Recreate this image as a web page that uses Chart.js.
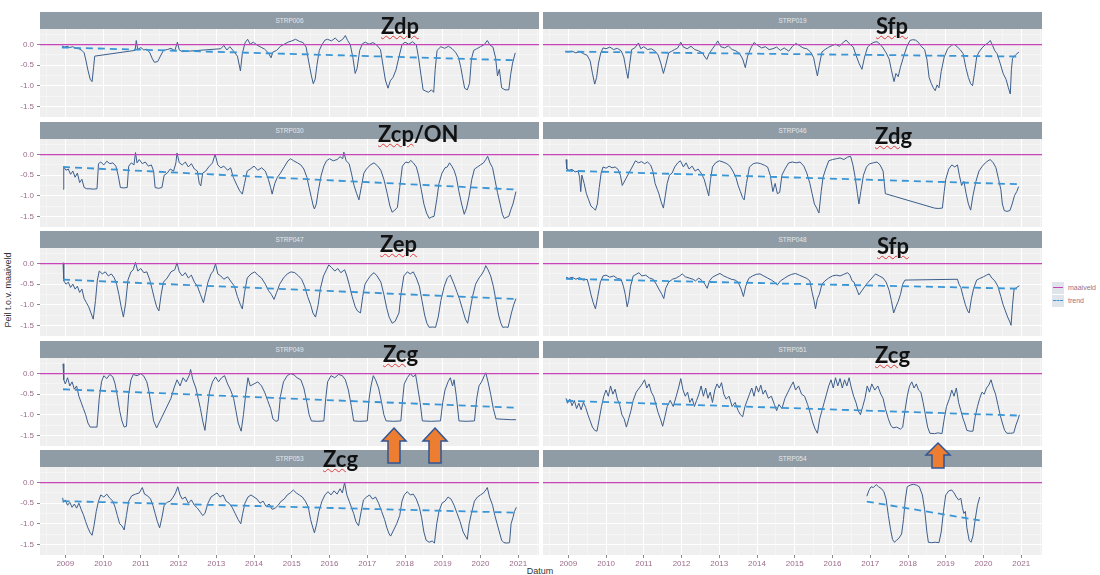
<!DOCTYPE html>
<html>
<head>
<meta charset="utf-8">
<script src="https://cdn.jsdelivr.net/npm/chart.js@4.4.1/dist/chart.umd.min.js"></script>
<style>
  body { margin: 0; background: #fff; }
  #wrap { position: relative; width: 1100px; height: 575px; overflow: hidden; background: #fff; font-family: "Liberation Sans", sans-serif; }
  .strip { position: absolute; height: 17px; background: #8f9ba5; color: #e4e8eb; font-size: 6.5px; line-height: 17px; text-align: center; }
  canvas { position: absolute; }
  .tag { position: absolute; font-family: Lato, sans-serif; font-weight: bold; font-size: 22px; line-height: 22px; color: #111; white-space: nowrap; z-index: 5; }
  .sq { text-decoration: underline wavy #e23a3a; text-decoration-thickness: 1px; text-underline-offset: 1px; }
  #ytitle { position: absolute; left: 8px; top: 290px; transform: translate(-50%, -50%) rotate(-90deg); font-size: 9px; color: #333; white-space: nowrap; }
  #xtitle { position: absolute; left: 540px; top: 566px; transform: translateX(-50%); font-size: 9px; color: #333; }
  #legend { position: absolute; left: 1052px; top: 281px; font-size: 7px; color: #9a7088; }
  .lk { display: flex; align-items: center; height: 13px; white-space: nowrap; }
  .key { width: 12px; height: 12px; background: #dfe5eb; margin-right: 4px; position: relative; }
  .key i { position: absolute; left: 1px; right: 1px; top: 5px; }
  svg { position: absolute; left: 0; top: 0; z-index: 6; }
</style>
</head>
<body>
<div id="wrap">
  <div id="ytitle">Peil t.o.v. maaiveld</div>
  <div id="xtitle">Datum</div>
  <div id="legend">
    <div class="lk"><span class="key"><i style="border-top:1.5px solid #c844b8"></i></span>maaiveld</div>
    <div class="lk"><span class="key"><i style="border-top:1.5px dashed #3a95d5"></i></span>trend</div>
  </div>
  <div class="tag" style="left:381px;top:15px"><span class="sq">Zdp</span></div>
  <div class="tag" style="left:876px;top:15px"><span class="sq">Sfp</span></div>
  <div class="tag" style="left:378px;top:123px"><span class="sq">Zcp</span>/ON</div>
  <div class="tag" style="left:875px;top:125px"><span class="sq">Zdg</span></div>
  <div class="tag" style="left:380px;top:233px"><span class="sq">Zep</span></div>
  <div class="tag" style="left:877px;top:235px"><span class="sq">Sfp</span></div>
  <div class="tag" style="left:383px;top:343px"><span class="sq">Zcg</span></div>
  <div class="tag" style="left:875px;top:344px"><span class="sq">Zcg</span></div>
  <div class="tag" style="left:323px;top:448px"><span class="sq">Zcg</span></div>
  <svg width="1100" height="575">
    <g fill="#ed7d31" stroke="#2f5597" stroke-width="1.5">
      <polygon points="394,428 406,441 400,441 400,463 388,463 388,441 382,441"/>
      <polygon points="435,428 447,441 441,441 441,463 429,463 429,441 423,441"/>
      <polygon points="938,443 950,455 944,455 944,468 932,468 932,455 926,455"/>
    </g>
  </svg>
</div>
<script>
const X_MIN = 2008.33, X_MAX = 2021.55;
const Y_MIN = -1.76, Y_MAX = 0.38;

const xMajor = [2009, 2010, 2011, 2012, 2013, 2014, 2015, 2016, 2017, 2018, 2019, 2020, 2021];
const xMinor = [2008.5, 2009.5, 2010.5, 2011.5, 2012.5, 2013.5, 2014.5, 2015.5, 2016.5, 2017.5, 2018.5, 2019.5, 2020.5, 2021.5];
const yMajor = [0, -0.5, -1, -1.5];
const yMinor = [0.25, -0.25, -0.75, -1.25];

const strp006 = [
  [2008.91,-0.03],[2008.98,-0.06],[2009.05,-0.04],[2009.12,-0.07],[2009.2,-0.05],[2009.28,-0.09],[2009.36,-0.1],[2009.44,-0.14],[2009.5,-0.2],[2009.55,-0.4],[2009.6,-0.62],[2009.66,-0.84],[2009.71,-0.9],[2009.75,-0.55],[2009.78,-0.28],
  [2010.85,-0.14],[2010.88,0.1],[2010.92,-0.12],[2011.0,-0.07],[2011.08,-0.13],[2011.16,-0.11],[2011.24,-0.2],[2011.3,-0.33],[2011.36,-0.43],[2011.45,-0.41],[2011.52,-0.28],[2011.6,-0.14],[2011.7,-0.12],[2011.8,-0.09],[2011.9,-0.15],[2011.97,0.06],[2012.02,-0.13],[2012.1,-0.17],
  [2013.12,-0.1],[2013.2,-0.02],[2013.28,-0.13],[2013.36,-0.05],[2013.46,-0.16],[2013.56,-0.28],[2013.64,-0.64],[2013.69,-0.22],[2013.76,0.04],[2013.83,0.13],[2013.9,0.01],[2013.98,0.06],[2014.08,-0.01],[2014.18,-0.06],[2014.28,-0.11],[2014.38,-0.2],[2014.45,-0.32],[2014.5,-0.18],[2014.6,-0.14],[2014.7,-0.04],[2014.8,0.01],[2014.9,0.06],[2015.0,0.09],[2015.1,0.13],[2015.2,0.08],[2015.3,0.05],[2015.38,-0.06],[2015.45,-0.42],[2015.52,-0.76],[2015.57,-0.95],[2015.62,-0.84],[2015.67,-0.48],[2015.73,-0.14],[2015.8,0.0],[2015.88,0.11],[2015.95,0.13],
  [2016.05,0.09],[2016.15,0.16],[2016.25,0.07],[2016.35,0.13],[2016.42,0.22],[2016.48,0.1],[2016.55,0.0],[2016.62,-0.32],[2016.68,-0.7],[2016.73,-0.58],[2016.8,-0.14],[2016.87,0.02],[2016.95,0.06],[2017.05,0.01],[2017.15,0.05],[2017.25,-0.01],[2017.35,-0.12],[2017.42,-0.52],[2017.48,-0.86],[2017.55,-1.06],[2017.61,-0.88],[2017.68,-0.8],[2017.76,-0.62],[2017.84,-0.3],[2017.92,0.0],
  [2018.0,0.06],[2018.1,0.01],[2018.2,0.07],[2018.3,-0.01],[2018.36,-0.32],[2018.42,-0.72],[2018.48,-1.1],[2018.55,-1.13],[2018.62,-1.16],[2018.7,-1.1],[2018.76,-1.16],[2018.8,-0.6],[2018.85,-0.14],[2018.95,-0.05],[2019.05,-0.09],[2019.15,-0.04],[2019.25,-0.1],[2019.35,-0.2],[2019.42,-0.32],[2019.48,-0.56],[2019.53,-0.82],[2019.58,-1.06],[2019.65,-1.1],[2019.71,-0.94],[2019.76,-0.35],[2019.82,-0.14],[2019.9,-0.1],
  [2020.0,-0.05],[2020.1,0.0],[2020.18,0.1],[2020.25,-0.01],[2020.33,-0.06],[2020.4,-0.32],[2020.45,-0.76],[2020.5,-0.6],[2020.56,-1.05],[2020.65,-1.1],[2020.75,-1.1],[2020.8,-0.72],[2020.85,-0.45],[2020.92,-0.2]
];
const trend006 = [[2008.91,-0.07],[2020.92,-0.38]];

const strp019 = [
  [2008.92,-0.17],[2009.0,-0.18],[2009.1,-0.16],[2009.2,-0.2],[2009.3,-0.17],[2009.4,-0.22],[2009.5,-0.26],[2009.58,-0.4],[2009.64,-0.7],[2009.7,-0.96],[2009.75,-0.8],[2009.8,-0.45],[2009.86,-0.2],[2009.92,-0.08],
  [2010.0,-0.1],[2010.1,-0.06],[2010.2,-0.12],[2010.3,-0.09],[2010.4,-0.15],[2010.47,-0.3],[2010.54,-0.65],[2010.58,-0.82],[2010.63,-0.45],[2010.68,-0.12],[2010.76,-0.08],[2010.86,0.04],[2010.92,-0.1],
  [2011.0,-0.05],[2011.1,-0.12],[2011.2,-0.1],[2011.3,-0.16],[2011.38,-0.25],[2011.45,-0.45],[2011.52,-0.7],[2011.58,-0.5],[2011.66,-0.2],[2011.74,-0.16],[2011.82,-0.12],[2011.9,-0.08],[2011.98,0.06],
  [2012.05,-0.06],[2012.15,-0.1],[2012.25,-0.04],[2012.35,-0.12],[2012.45,-0.15],[2012.55,-0.2],[2012.62,-0.3],[2012.67,-0.36],[2012.73,-0.22],[2012.82,-0.1],[2012.9,0.0],[2012.96,0.09],
  [2013.04,-0.05],[2013.14,-0.08],[2013.24,-0.03],[2013.34,-0.12],[2013.44,-0.15],[2013.54,-0.22],[2013.62,-0.35],[2013.69,-0.56],[2013.75,-0.28],[2013.84,-0.08],[2013.92,0.05],
  [2014.02,-0.02],[2014.12,-0.08],[2014.22,-0.05],[2014.32,-0.12],[2014.42,-0.1],[2014.52,-0.06],[2014.62,-0.14],[2014.72,-0.08],[2014.84,-0.16],[2014.94,-0.04],
  [2015.03,0.03],[2015.12,-0.02],[2015.22,-0.08],[2015.32,-0.1],[2015.42,-0.18],[2015.5,-0.32],[2015.55,-0.55],[2015.6,-0.76],[2015.65,-0.5],[2015.72,-0.18],[2015.8,-0.12],[2015.9,-0.06],
  [2016.0,-0.02],[2016.08,0.01],[2016.18,-0.04],[2016.28,0.05],[2016.36,0.11],[2016.45,0.02],[2016.55,-0.06],[2016.62,-0.25],[2016.7,-0.45],[2016.78,-0.6],[2016.85,-0.3],[2016.93,-0.06],
  [2017.02,0.02],[2017.1,0.06],[2017.18,0.07],[2017.26,0.01],[2017.34,-0.08],[2017.42,-0.2],[2017.5,-0.35],[2017.56,-0.62],[2017.63,-0.9],[2017.68,-0.7],[2017.74,-0.78],[2017.8,-0.55],[2017.88,-0.3],[2017.97,-0.05],
  [2018.05,0.1],[2018.12,0.12],[2018.2,0.11],[2018.27,0.06],[2018.35,-0.04],[2018.44,-0.12],[2018.5,-0.35],[2018.56,-0.8],[2018.62,-0.95],[2018.67,-1.05],[2018.72,-1.12],[2018.77,-0.98],[2018.82,-1.05],[2018.88,-0.65],[2018.96,-0.3],
  [2019.05,-0.1],[2019.15,-0.02],[2019.22,0.01],[2019.3,-0.05],[2019.38,-0.12],[2019.46,-0.22],[2019.53,-0.55],[2019.6,-0.8],[2019.66,-0.95],[2019.71,-1.0],[2019.76,-0.7],[2019.82,-0.3],[2019.88,-0.18],[2019.96,-0.08],
  [2020.05,0.0],[2020.12,0.04],[2020.18,0.1],[2020.24,-0.02],[2020.3,-0.15],[2020.36,-0.22],[2020.44,-0.45],[2020.52,-0.7],[2020.6,-0.85],[2020.66,-1.05],[2020.71,-1.2],[2020.74,-0.6],[2020.77,-0.33],[2020.85,-0.25],[2020.94,-0.18]
];
const trend019 = [[2008.92,-0.17],[2020.94,-0.29]];

const strp030 = [
  [2008.94,-0.84],[2008.96,-0.3],[2009.02,-0.38],[2009.08,-0.35],[2009.14,-0.48],[2009.2,-0.4],[2009.26,-0.55],[2009.32,-0.45],[2009.38,-0.68],[2009.44,-0.6],[2009.5,-0.8],[2009.57,-0.83],[2009.65,-0.83],[2009.75,-0.84],[2009.84,-0.83],[2009.88,-0.22],[2009.94,-0.18],
  [2010.02,-0.25],[2010.1,-0.16],[2010.18,-0.22],[2010.26,-0.2],[2010.34,-0.28],[2010.4,-0.5],[2010.46,-0.8],[2010.55,-0.81],[2010.64,-0.8],[2010.68,-0.28],[2010.75,-0.2],[2010.82,-0.25],[2010.86,0.05],[2010.9,-0.2],[2010.96,-0.12],
  [2011.04,-0.22],[2011.12,-0.18],[2011.2,-0.28],[2011.28,-0.25],[2011.34,-0.4],[2011.38,-0.8],[2011.47,-0.82],[2011.56,-0.8],[2011.62,-0.5],[2011.7,-0.45],[2011.78,-0.35],[2011.87,-0.4],[2011.93,-0.2],[2011.96,0.04],
  [2012.02,-0.2],[2012.1,-0.25],[2012.18,-0.18],[2012.26,-0.3],[2012.34,-0.22],[2012.42,-0.35],[2012.5,-0.4],[2012.55,-0.7],[2012.59,-0.76],[2012.64,-0.45],[2012.72,-0.4],[2012.8,-0.3],[2012.9,-0.2],[2012.97,0.01],
  [2013.04,-0.25],[2013.12,-0.32],[2013.2,-0.28],[2013.3,-0.38],[2013.38,-0.32],[2013.45,-0.55],[2013.55,-0.75],[2013.62,-0.88],[2013.69,-0.96],[2013.75,-0.7],[2013.82,-0.4],[2013.9,-0.35],
  [2014.0,-0.28],[2014.1,-0.38],[2014.2,-0.32],[2014.3,-0.4],[2014.38,-0.6],[2014.44,-0.8],[2014.48,-0.96],[2014.55,-0.7],[2014.62,-0.55],[2014.7,-0.45],[2014.8,-0.3],[2014.9,-0.15],[2014.97,-0.1],
  [2015.05,-0.15],[2015.15,-0.2],[2015.24,-0.25],[2015.32,-0.35],[2015.4,-0.55],[2015.46,-0.8],[2015.52,-1.05],[2015.57,-1.25],[2015.6,-1.32],[2015.65,-1.2],[2015.7,-0.9],[2015.78,-0.5],[2015.85,-0.28],[2015.92,-0.15],
  [2016.0,-0.1],[2016.1,-0.15],[2016.2,-0.12],[2016.28,-0.05],[2016.35,-0.1],[2016.38,0.06],[2016.44,-0.15],[2016.52,-0.22],[2016.58,-0.45],[2016.65,-0.75],[2016.72,-0.95],[2016.78,-1.1],[2016.85,-0.75],[2016.91,-0.45],[2016.98,-0.35],
  [2017.08,-0.25],[2017.18,-0.2],[2017.28,-0.28],[2017.36,-0.38],[2017.44,-0.6],[2017.53,-0.95],[2017.6,-1.25],[2017.66,-1.4],[2017.73,-1.35],[2017.8,-1.28],[2017.86,-0.8],[2017.93,-0.28],
  [2018.02,-0.18],[2018.1,-0.2],[2018.15,-0.14],[2018.22,-0.2],[2018.3,-0.3],[2018.36,-0.5],[2018.43,-0.85],[2018.5,-1.2],[2018.57,-1.42],[2018.64,-1.55],[2018.7,-1.52],[2018.77,-1.5],[2018.84,-1.1],[2018.9,-0.7],[2018.98,-0.45],
  [2019.06,-0.32],[2019.12,-0.3],[2019.18,-0.2],[2019.24,-0.28],[2019.3,-0.38],[2019.36,-0.55],[2019.43,-0.9],[2019.5,-1.2],[2019.57,-1.45],[2019.63,-1.3],[2019.7,-1.0],[2019.77,-0.6],[2019.84,-0.35],[2019.92,-0.3],
  [2020.0,-0.25],[2020.08,-0.2],[2020.14,-0.12],[2020.19,-0.04],[2020.25,-0.2],[2020.32,-0.32],[2020.38,-0.6],[2020.45,-0.92],[2020.52,-1.2],[2020.58,-1.45],[2020.63,-1.55],[2020.7,-1.52],[2020.75,-1.5],[2020.8,-1.35],[2020.86,-1.2],[2020.94,-0.9]
];
const trend030 = [[2008.94,-0.3],[2020.94,-0.85]];

const strp046 = [
  [2008.94,-0.12],[2008.96,-0.35],[2009.02,-0.38],[2009.1,-0.36],[2009.18,-0.42],[2009.26,-0.4],[2009.3,-0.55],[2009.33,-0.9],[2009.36,-0.5],[2009.42,-0.7],[2009.48,-0.95],[2009.54,-1.1],[2009.6,-1.25],[2009.66,-1.3],[2009.72,-1.35],[2009.77,-1.2],[2009.82,-0.8],[2009.87,-0.45],[2009.92,-0.3],
  [2010.0,-0.33],[2010.08,-0.28],[2010.16,-0.32],[2010.24,-0.3],[2010.32,-0.36],[2010.38,-0.5],[2010.43,-0.75],[2010.78,-0.15],[2010.86,-0.2],[2010.94,-0.17],
  [2011.02,-0.22],[2011.1,-0.18],[2011.18,-0.25],[2011.24,-0.4],[2011.3,-0.7],[2011.36,-0.85],[2011.4,-0.95],[2011.46,-1.15],[2011.52,-1.3],[2011.57,-1.0],[2011.62,-0.7],[2011.68,-0.5],[2011.75,-0.45],[2011.82,-0.3],[2011.9,-0.2],[2011.97,-0.15],
  [2012.05,-0.3],[2012.12,-0.2],[2012.2,-0.35],[2012.28,-0.28],[2012.36,-0.4],[2012.44,-0.35],[2012.52,-0.45],[2012.6,-0.6],[2012.66,-0.8],[2012.72,-1.0],[2012.77,-0.6],[2012.82,-0.3],[2012.9,-0.2],
  [2013.0,-0.15],[2013.1,-0.18],[2013.2,-0.22],[2013.28,-0.28],[2013.36,-0.4],[2013.44,-0.55],[2013.5,-0.75],[2013.56,-0.9],[2013.62,-1.05],[2013.66,-1.1],[2013.72,-0.7],[2013.8,-0.3],[2013.9,-0.22],
  [2014.0,-0.2],[2014.1,-0.22],[2014.2,-0.26],[2014.28,-0.3],[2014.35,-0.5],[2014.42,-0.9],[2014.48,-0.7],[2014.54,-0.95],[2014.6,-0.92],[2014.66,-0.5],[2014.74,-0.35],[2014.84,-0.2],[2014.94,-0.18],
  [2015.04,-0.2],[2015.14,-0.18],[2015.24,-0.28],[2015.32,-0.45],[2015.4,-0.7],[2015.46,-0.95],[2015.52,-1.2],[2015.58,-1.3],[2015.64,-1.42],[2015.7,-0.9],[2015.75,-0.55],[2015.82,-0.35],[2015.9,-0.15],
  [2016.0,-0.12],[2016.1,-0.1],[2016.2,-0.08],[2016.3,-0.12],[2016.4,-0.06],[2016.48,-0.04],[2016.54,-0.25],[2016.6,-0.55],[2016.66,-0.95],[2016.7,-1.2],[2016.75,-0.9],[2016.82,-0.5],[2016.9,-0.3],[2016.98,-0.22],
  [2017.08,-0.2],[2017.18,-0.18],[2017.26,-0.25],[2017.34,-0.4],[2017.4,-0.95],[2018.7,-1.3],[2018.8,-1.31],[2018.91,-1.3],[2018.96,-0.9],
  [2019.0,-0.6],[2019.08,-0.35],[2019.16,-0.25],[2019.24,-0.3],[2019.31,-0.25],[2019.36,-0.5],[2019.42,-0.75],[2019.48,-0.65],[2019.54,-0.95],[2019.6,-1.2],[2019.66,-1.35],[2019.72,-1.0],[2019.8,-0.65],[2019.88,-0.4],[2019.97,-0.28],
  [2020.05,-0.2],[2020.12,-0.15],[2020.18,-0.12],[2020.26,-0.2],[2020.33,-0.32],[2020.4,-0.6],[2020.46,-0.85],[2020.5,-1.2],[2020.55,-1.36],[2020.62,-1.38],[2020.7,-1.36],[2020.76,-1.2],[2020.82,-1.0],[2020.88,-0.9],[2020.93,-0.78]
];
const trend046 = [[2008.94,-0.39],[2020.93,-0.72]];

const strp047 = [
  [2008.94,0.02],[2008.96,-0.42],[2009.02,-0.5],[2009.08,-0.45],[2009.14,-0.58],[2009.2,-0.5],[2009.26,-0.62],[2009.32,-0.55],[2009.38,-0.7],[2009.44,-0.62],[2009.5,-0.85],[2009.56,-0.95],[2009.62,-1.05],[2009.68,-1.2],[2009.74,-1.35],[2009.8,-0.9],[2009.85,-0.4],[2009.9,-0.18],[2009.98,-0.25],
  [2010.06,-0.2],[2010.14,-0.3],[2010.22,-0.25],[2010.3,-0.35],[2010.36,-0.5],[2010.42,-0.75],[2010.48,-1.05],[2010.54,-1.3],[2010.6,-0.95],[2010.66,-0.4],[2010.74,-0.2],[2010.8,-0.15],[2010.86,0.03],[2010.92,-0.18],
  [2011.0,-0.12],[2011.08,-0.22],[2011.16,-0.2],[2011.24,-0.4],[2011.3,-0.62],[2011.36,-0.85],[2011.42,-1.05],[2011.48,-1.15],[2011.54,-0.75],[2011.6,-0.45],[2011.7,-0.35],[2011.8,-0.2],[2011.9,-0.15],[2011.96,0.02],
  [2012.02,-0.2],[2012.1,-0.3],[2012.18,-0.22],[2012.26,-0.35],[2012.34,-0.28],[2012.42,-0.45],[2012.5,-0.55],[2012.58,-0.75],[2012.66,-0.95],[2012.72,-0.7],[2012.78,-0.45],[2012.86,-0.25],[2012.92,-0.18],[2012.98,0.0],
  [2013.04,-0.25],[2013.12,-0.3],[2013.2,-0.38],[2013.3,-0.32],[2013.4,-0.45],[2013.48,-0.55],[2013.56,-0.8],[2013.64,-1.0],[2013.69,-1.1],[2013.75,-0.7],[2013.82,-0.35],[2013.92,-0.25],
  [2014.02,-0.2],[2014.1,-0.28],[2014.2,-0.35],[2014.3,-0.5],[2014.38,-0.65],[2014.46,-0.75],[2014.53,-0.87],[2014.6,-0.7],[2014.68,-0.5],[2014.78,-0.35],[2014.88,-0.25],[2014.98,-0.2],
  [2015.08,-0.22],[2015.18,-0.3],[2015.26,-0.38],[2015.34,-0.55],[2015.42,-0.8],[2015.5,-1.0],[2015.56,-1.2],[2015.63,-1.3],[2015.7,-1.0],[2015.76,-0.6],[2015.84,-0.3],[2015.92,-0.15],[2015.98,-0.03],
  [2016.06,-0.1],[2016.14,-0.18],[2016.22,-0.12],[2016.3,-0.22],[2016.4,-0.15],[2016.46,-0.3],[2016.52,-0.5],[2016.6,-0.8],[2016.68,-1.05],[2016.74,-1.15],[2016.82,-1.2],[2016.88,-0.8],[2016.94,-0.5],
  [2017.02,-0.38],[2017.1,-0.28],[2017.18,-0.22],[2017.26,-0.3],[2017.36,-0.45],[2017.44,-0.75],[2017.52,-1.1],[2017.58,-1.3],[2017.66,-1.45],[2017.74,-1.4],[2017.84,-1.2],[2017.9,-0.7],[2017.97,-0.3],
  [2018.06,-0.2],[2018.14,-0.25],[2018.22,-0.2],[2018.3,-0.35],[2018.38,-0.55],[2018.45,-0.9],[2018.52,-1.25],[2018.58,-1.45],[2018.64,-1.55],[2018.72,-1.54],[2018.81,-1.55],[2018.88,-1.3],[2018.95,-0.9],
  [2019.04,-0.55],[2019.12,-0.35],[2019.2,-0.28],[2019.3,-0.5],[2019.38,-0.7],[2019.44,-0.85],[2019.52,-1.1],[2019.6,-1.35],[2019.66,-1.45],[2019.72,-1.15],[2019.79,-0.8],[2019.87,-0.5],[2019.96,-0.35],
  [2020.04,-0.25],[2020.1,-0.15],[2020.14,-0.05],[2020.2,-0.15],[2020.27,-0.3],[2020.34,-0.55],[2020.41,-0.9],[2020.48,-1.25],[2020.54,-1.45],[2020.59,-1.55],[2020.66,-1.54],[2020.73,-1.55],[2020.82,-1.2],[2020.88,-1.0],[2020.94,-0.85]
];
const trend047 = [[2008.94,-0.39],[2020.94,-0.86]];

const strp048 = [
  [2008.94,-0.33],[2009.02,-0.36],[2009.1,-0.33],[2009.2,-0.38],[2009.3,-0.34],[2009.4,-0.4],[2009.5,-0.38],[2009.55,-0.55],[2009.6,-0.75],[2009.66,-0.95],[2009.72,-1.1],[2009.78,-0.8],[2009.85,-0.45],[2009.92,-0.3],
  [2010.0,-0.28],[2010.1,-0.33],[2010.2,-0.3],[2010.3,-0.36],[2010.4,-0.38],[2010.46,-0.55],[2010.51,-0.75],[2010.56,-1.05],[2010.6,-0.9],[2010.65,-0.55],[2010.72,-0.3],[2010.8,-0.26],[2010.87,-0.22],[2010.95,-0.3],
  [2011.05,-0.28],[2011.15,-0.35],[2011.25,-0.38],[2011.33,-0.5],[2011.4,-0.62],[2011.48,-0.75],[2011.53,-0.85],[2011.58,-0.6],[2011.66,-0.45],[2011.76,-0.38],[2011.86,-0.35],[2011.95,-0.3],
  [2012.02,-0.25],[2012.1,-0.32],[2012.2,-0.35],[2012.3,-0.38],[2012.37,-0.42],[2012.46,-0.35],[2012.55,-0.42],[2012.62,-0.5],[2012.68,-0.6],[2012.74,-0.42],[2012.82,-0.33],[2012.92,-0.28],
  [2013.02,-0.24],[2013.12,-0.3],[2013.22,-0.34],[2013.32,-0.38],[2013.42,-0.4],[2013.5,-0.45],[2013.58,-0.62],[2013.64,-0.8],[2013.7,-0.55],[2013.78,-0.36],[2013.88,-0.3],[2013.98,-0.26],
  [2014.08,-0.25],[2014.18,-0.3],[2014.28,-0.35],[2014.38,-0.4],[2014.46,-0.45],[2014.54,-0.52],[2014.62,-0.42],[2014.72,-0.36],[2014.82,-0.3],[2014.92,-0.26],
  [2015.02,-0.24],[2015.12,-0.28],[2015.22,-0.32],[2015.32,-0.36],[2015.4,-0.42],[2015.46,-0.7],[2015.51,-0.9],[2015.55,-1.1],[2015.6,-0.85],[2015.65,-0.75],[2015.72,-0.5],[2015.8,-0.42],[2015.9,-0.35],
  [2016.0,-0.3],[2016.1,-0.28],[2016.2,-0.3],[2016.3,-0.26],[2016.4,-0.22],[2016.46,-0.28],[2016.52,-0.42],[2016.57,-0.45],[2016.7,-0.76],[2016.9,-0.5],
  [2017.14,-0.25],[2017.24,-0.3],[2017.34,-0.35],[2017.42,-0.45],[2017.5,-0.65],[2017.56,-0.9],[2017.62,-1.2],[2017.68,-1.05],[2017.74,-0.92],[2017.8,-0.75],[2017.86,-0.5],[2017.92,-0.4],
  [2019.31,-0.38],[2019.35,-0.5],[2019.4,-0.58],[2019.46,-0.8],[2019.52,-1.0],[2019.58,-1.15],[2019.62,-1.2],[2019.68,-0.85],[2019.74,-0.6],[2019.82,-0.4],[2019.9,-0.36],
  [2020.0,-0.32],[2020.08,-0.28],[2020.15,-0.25],[2020.22,-0.35],[2020.3,-0.42],[2020.38,-0.55],[2020.46,-0.8],[2020.52,-1.0],[2020.58,-1.15],[2020.64,-1.3],[2020.7,-1.42],[2020.73,-1.5],[2020.77,-1.0],[2020.81,-0.62],[2020.88,-0.58],[2020.95,-0.54]
];
const trend048 = [[2008.94,-0.37],[2020.95,-0.61]];

const strp049 = [
  [2008.94,0.24],[2008.96,-0.15],[2009.0,-0.25],[2009.06,-0.1],[2009.12,-0.3],[2009.18,-0.2],[2009.24,-0.38],[2009.3,-0.3],[2009.36,-0.55],[2009.42,-0.7],[2009.48,-0.85],[2009.54,-1.0],[2009.6,-1.2],[2009.66,-1.3],[2009.76,-1.3],[2009.84,-1.3],[2009.9,-0.6],[2009.96,-0.2],
  [2010.02,-0.05],[2010.1,-0.12],[2010.18,-0.02],[2010.26,-0.08],[2010.32,-0.25],[2010.38,-0.55],[2010.44,-0.9],[2010.5,-1.15],[2010.56,-1.3],[2010.62,-1.28],[2010.68,-0.5],[2010.74,-0.15],[2010.8,-0.02],[2010.9,-0.05],
  [2011.0,0.0],[2011.08,-0.06],[2011.16,-0.2],[2011.22,-0.45],[2011.28,-0.8],[2011.34,-1.15],[2011.42,-1.32],[2011.8,-0.6],[2011.88,-0.35],[2011.96,-0.15],
  [2012.04,-0.3],[2012.12,-0.1],[2012.2,-0.2],[2012.28,-0.05],[2012.32,0.1],[2012.38,-0.15],[2012.46,-0.35],[2012.52,-0.6],[2012.58,-0.85],[2012.64,-1.15],[2012.7,-1.38],[2012.76,-0.9],[2012.82,-0.45],[2012.9,-0.2],[2012.98,-0.08],
  [2013.06,-0.2],[2013.14,-0.1],[2013.22,-0.05],[2013.3,-0.25],[2013.38,-0.4],[2013.46,-0.6],[2013.52,-0.9],[2013.58,-1.2],[2013.66,-1.4],[2013.72,-1.0],[2013.78,-0.5],[2013.84,-0.1],[2013.9,-0.3],
  [2014.0,-0.25],[2014.1,-0.2],[2014.2,-0.3],[2014.28,-0.45],[2014.36,-0.65],[2014.44,-0.85],[2014.5,-1.1],[2014.58,-1.16],[2014.64,-1.14],[2014.7,-0.55],[2014.78,-0.2],[2014.88,-0.05],[2014.97,0.0],
  [2015.06,-0.03],[2015.14,-0.1],[2015.24,-0.15],[2015.32,-0.35],[2015.4,-0.7],[2015.46,-1.0],[2015.52,-1.15],[2015.68,-1.16],[2015.85,-1.15],[2015.9,-0.6],[2015.95,-0.2],
  [2016.04,-0.05],[2016.14,-0.1],[2016.24,-0.02],[2016.34,-0.05],[2016.42,-0.15],[2016.5,-0.4],[2016.58,-0.8],[2016.64,-1.15],[2016.8,-1.16],[2017.0,-1.15],
  [2017.05,-0.6],[2017.1,-0.3],[2017.16,-0.05],[2017.22,-0.15],[2017.3,-0.35],[2017.38,-0.7],[2017.44,-1.0],[2017.5,-1.15],[2017.7,-1.16],[2017.89,-1.15],[2017.94,-0.6],[2017.98,-0.25],
  [2018.06,-0.1],[2018.14,0.0],[2018.22,-0.08],[2018.28,-0.02],[2018.33,-0.3],[2018.4,-0.7],[2018.46,-1.15],[2018.7,-1.16],[2018.94,-1.15],
  [2019.0,-0.7],[2019.06,-0.4],[2019.14,-0.2],[2019.2,-0.1],[2019.26,-0.3],[2019.3,-0.15],[2019.36,-0.55],[2019.43,-1.15],[2019.62,-1.16],[2019.84,-1.15],[2019.9,-0.6],[2019.96,-0.3],
  [2020.04,-0.18],[2020.1,-0.05],[2020.14,0.02],[2020.2,-0.2],[2020.27,-0.5],[2020.34,-0.85],[2020.41,-1.1],[2020.6,-1.11],[2020.8,-1.12],[2020.94,-1.12]
];
const trend049 = [[2008.94,-0.38],[2020.94,-0.83]];

const strp051 = [
  [2008.94,-0.6],[2008.98,-0.72],[2009.04,-0.62],[2009.1,-0.78],[2009.16,-0.65],[2009.22,-0.85],[2009.28,-0.72],[2009.34,-0.88],[2009.4,-0.7],[2009.46,-0.82],[2009.52,-1.0],[2009.58,-1.15],[2009.64,-1.3],[2009.7,-1.38],[2009.76,-1.4],[2009.82,-1.1],[2009.88,-0.8],[2009.94,-0.55],
  [2010.0,-0.4],[2010.06,-0.55],[2010.12,-0.3],[2010.18,-0.5],[2010.24,-0.38],[2010.3,-0.62],[2010.36,-0.75],[2010.42,-1.0],[2010.48,-1.1],[2010.54,-1.3],[2010.6,-1.1],[2010.66,-0.9],[2010.72,-0.65],[2010.8,-0.45],[2010.88,-0.35],[2010.96,-0.25],
  [2011.02,-0.15],[2011.08,-0.35],[2011.14,-0.25],[2011.2,-0.45],[2011.26,-0.55],[2011.32,-0.75],[2011.38,-0.95],[2011.44,-1.1],[2011.5,-1.28],[2011.56,-1.05],[2011.62,-0.8],[2011.7,-0.65],[2011.78,-0.8],[2011.86,-0.55],[2011.92,-0.35],[2011.98,-0.12],
  [2012.04,-0.4],[2012.1,-0.55],[2012.16,-0.45],[2012.22,-0.7],[2012.28,-0.6],[2012.34,-0.8],[2012.4,-0.65],[2012.46,-0.5],[2012.52,-0.3],[2012.58,-0.55],[2012.64,-0.35],[2012.7,-0.6],[2012.76,-0.45],[2012.82,-0.7],[2012.88,-0.4],[2012.94,-0.25],
  [2013.0,-0.35],[2013.06,-0.22],[2013.12,-0.5],[2013.18,-0.62],[2013.26,-0.55],[2013.34,-0.8],[2013.42,-0.7],[2013.5,-0.9],[2013.56,-1.0],[2013.62,-1.05],[2013.68,-0.8],[2013.74,-0.65],[2013.8,-0.5],[2013.86,-0.35],[2013.92,-0.55],[2013.98,-0.3],
  [2014.04,-0.45],[2014.1,-0.28],[2014.16,-0.5],[2014.22,-0.4],[2014.3,-0.6],[2014.38,-0.55],[2014.46,-0.75],[2014.52,-0.9],[2014.58,-0.75],[2014.66,-0.85],[2014.74,-0.6],[2014.82,-0.45],[2014.9,-0.3],[2014.96,-0.2],
  [2015.02,-0.4],[2015.1,-0.3],[2015.18,-0.5],[2015.26,-0.55],[2015.34,-0.75],[2015.42,-1.0],[2015.48,-1.2],[2015.54,-1.35],[2015.6,-1.45],[2015.66,-1.1],[2015.72,-0.9],[2015.78,-0.7],[2015.84,-0.5],[2015.9,-0.3],[2015.96,-0.15],
  [2016.02,-0.35],[2016.08,-0.1],[2016.14,-0.3],[2016.2,-0.12],[2016.26,-0.35],[2016.32,-0.15],[2016.38,-0.3],[2016.44,-0.1],[2016.5,-0.35],[2016.56,-0.55],[2016.62,-0.7],[2016.68,-0.9],[2016.74,-1.0],[2016.8,-0.8],[2016.86,-0.6],[2016.92,-0.3],[2016.98,-0.45],
  [2017.04,-0.25],[2017.12,-0.4],[2017.2,-0.3],[2017.28,-0.5],[2017.34,-0.6],[2017.4,-0.85],[2017.48,-1.1],[2017.54,-1.25],[2017.6,-1.32],[2017.7,-1.3],[2017.8,-1.35],[2017.86,-1.3],[2017.92,-0.9],[2017.98,-0.55],
  [2018.04,-0.3],[2018.1,-0.2],[2018.16,-0.35],[2018.22,-0.25],[2018.28,-0.4],[2018.34,-0.45],[2018.4,-0.7],[2018.46,-1.0],[2018.52,-1.3],[2018.58,-1.45],[2018.7,-1.46],[2018.8,-1.44],[2018.9,-1.46],[2018.96,-1.1],
  [2019.02,-0.8],[2019.1,-0.6],[2019.16,-0.4],[2019.22,-0.55],[2019.28,-0.35],[2019.34,-0.7],[2019.4,-0.9],[2019.46,-1.1],[2019.5,-1.2],[2019.56,-1.38],[2019.64,-1.4],[2019.72,-1.4],[2019.78,-1.05],[2019.84,-0.8],[2019.9,-0.6],[2019.96,-0.45],
  [2020.02,-0.5],[2020.08,-0.35],[2020.14,-0.28],[2020.2,-0.15],[2020.26,-0.35],[2020.32,-0.5],[2020.38,-0.75],[2020.44,-1.0],[2020.5,-1.2],[2020.56,-1.38],[2020.62,-1.45],[2020.72,-1.45],[2020.8,-1.44],[2020.86,-1.25],[2020.92,-1.1],[2020.95,-1.0]
];
const trend051 = [[2008.94,-0.66],[2020.95,-1.02]];

const strp053 = [
  [2008.93,-0.37],[2008.95,-0.48],[2009.0,-0.42],[2009.06,-0.55],[2009.12,-0.48],[2009.18,-0.6],[2009.24,-0.52],[2009.3,-0.62],[2009.36,-0.5],[2009.42,-0.65],[2009.48,-0.78],[2009.54,-0.95],[2009.6,-1.1],[2009.66,-1.22],[2009.71,-1.28],[2009.76,-1.05],[2009.82,-0.7],[2009.88,-0.45],[2009.94,-0.3],
  [2010.02,-0.35],[2010.1,-0.28],[2010.18,-0.38],[2010.26,-0.45],[2010.32,-0.6],[2010.38,-0.8],[2010.44,-1.0],[2010.5,-1.05],[2010.56,-1.15],[2010.62,-0.8],[2010.68,-0.45],[2010.76,-0.32],[2010.86,-0.28],[2010.96,-0.25],
  [2011.04,-0.12],[2011.1,-0.28],[2011.18,-0.32],[2011.26,-0.4],[2011.32,-0.55],[2011.38,-0.75],[2011.44,-0.95],[2011.5,-1.1],[2011.56,-0.85],[2011.62,-0.55],[2011.7,-0.48],[2011.78,-0.45],[2011.86,-0.35],[2011.92,-0.25],[2011.98,-0.1],
  [2012.04,-0.3],[2012.1,-0.4],[2012.18,-0.35],[2012.26,-0.5],[2012.34,-0.42],[2012.42,-0.55],[2012.5,-0.62],[2012.58,-0.72],[2012.64,-0.8],[2012.7,-0.75],[2012.78,-0.5],[2012.86,-0.35],[2012.94,-0.3],
  [2013.02,-0.25],[2013.1,-0.35],[2013.18,-0.3],[2013.26,-0.45],[2013.34,-0.5],[2013.42,-0.6],[2013.5,-0.75],[2013.58,-0.9],[2013.65,-1.0],[2013.7,-0.75],[2013.76,-0.5],[2013.84,-0.35],[2013.92,-0.3],
  [2014.0,-0.35],[2014.08,-0.4],[2014.16,-0.5],[2014.24,-0.45],[2014.32,-0.58],[2014.4,-0.52],[2014.48,-0.65],[2014.56,-0.62],[2014.64,-0.55],[2014.72,-0.45],[2014.8,-0.4],[2014.88,-0.3],[2014.96,-0.25],
  [2015.04,-0.18],[2015.12,-0.25],[2015.2,-0.3],[2015.28,-0.35],[2015.36,-0.45],[2015.44,-0.6],[2015.5,-0.9],[2015.56,-1.1],[2015.6,-1.22],[2015.66,-1.0],[2015.72,-0.7],[2015.8,-0.45],[2015.88,-0.3],[2015.96,-0.22],
  [2016.04,-0.3],[2016.12,-0.2],[2016.2,-0.28],[2016.28,-0.15],[2016.34,-0.25],[2016.4,0.0],[2016.46,-0.3],[2016.52,-0.45],[2016.58,-0.6],[2016.64,-0.75],[2016.7,-0.95],[2016.77,-1.05],[2016.84,-0.7],[2016.9,-0.42],[2016.98,-0.35],
  [2017.06,-0.3],[2017.14,-0.4],[2017.22,-0.35],[2017.3,-0.5],[2017.38,-0.7],[2017.46,-0.9],[2017.52,-1.1],[2017.58,-1.25],[2017.62,-1.3],[2017.7,-1.15],[2017.78,-1.0],[2017.86,-0.8],[2017.92,-0.45],[2017.98,-0.3],
  [2018.06,-0.22],[2018.14,-0.3],[2018.22,-0.28],[2018.3,-0.4],[2018.38,-0.6],[2018.44,-0.85],[2018.5,-1.2],[2018.56,-1.4],[2018.64,-1.45],[2018.72,-1.42],[2018.78,-1.47],[2018.84,-1.0],[2018.9,-0.7],[2018.98,-0.5],
  [2019.06,-0.45],[2019.14,-0.35],[2019.22,-0.4],[2019.3,-0.55],[2019.38,-0.75],[2019.46,-0.95],[2019.54,-1.2],[2019.6,-1.3],[2019.65,-1.38],[2019.7,-1.0],[2019.76,-0.75],[2019.84,-0.45],[2019.92,-0.35],
  [2020.0,-0.3],[2020.08,-0.25],[2020.14,-0.18],[2020.18,-0.12],[2020.24,-0.35],[2020.32,-0.55],[2020.38,-0.8],[2020.44,-1.0],[2020.5,-1.2],[2020.56,-1.4],[2020.62,-1.46],[2020.7,-1.47],[2020.77,-1.46],[2020.81,-1.0],[2020.86,-0.85],[2020.9,-0.7],[2020.95,-0.6]
];
const trend053 = [[2008.93,-0.45],[2020.95,-0.73]];

const strp054 = [
  [2016.91,-0.33],[2016.96,-0.2],[2017.02,-0.1],[2017.08,-0.12],[2017.16,-0.05],[2017.22,-0.1],[2017.3,-0.15],[2017.36,-0.22],[2017.42,-0.4],[2017.48,-0.8],[2017.54,-1.15],[2017.59,-1.38],[2017.64,-1.45],[2017.7,-1.4],[2017.76,-1.35],[2017.83,-1.25],[2017.88,-0.9],[2017.93,-0.4],[2017.98,-0.1],
  [2018.06,-0.06],[2018.14,-0.04],[2018.22,-0.06],[2018.3,-0.1],[2018.38,-0.3],[2018.44,-0.65],[2018.5,-1.2],[2018.54,-1.45],[2018.62,-1.46],[2018.72,-1.45],[2018.82,-1.46],[2018.88,-1.2],[2018.94,-0.7],
  [2019.0,-0.3],[2019.08,-0.2],[2019.16,-0.18],[2019.22,-0.25],[2019.28,-0.35],[2019.34,-0.42],[2019.4,-0.38],[2019.44,-0.6],[2019.48,-0.75],[2019.52,-0.7],[2019.56,-1.1],[2019.62,-1.4],[2019.67,-1.45],[2019.72,-1.3],[2019.78,-0.9],[2019.84,-0.55],[2019.9,-0.35]
];
const trend054 = [[2016.91,-0.46],[2019.9,-0.92]];

const panels = [
  { id: 'STRP006', series: strp006, trend: trend006, row: 0, col: 0 },
  { id: 'STRP019', series: strp019, trend: trend019, row: 0, col: 1 },
  { id: 'STRP030', series: strp030, trend: trend030, row: 1, col: 0 },
  { id: 'STRP046', series: strp046, trend: trend046, row: 1, col: 1 },
  { id: 'STRP047', series: strp047, trend: trend047, row: 2, col: 0 },
  { id: 'STRP048', series: strp048, trend: trend048, row: 2, col: 1 },
  { id: 'STRP049', series: strp049, trend: trend049, row: 3, col: 0 },
  { id: 'STRP051', series: strp051, trend: trend051, row: 3, col: 1 },
  { id: 'STRP053', series: strp053, trend: trend053, row: 4, col: 0 },
  { id: 'STRP054', series: strp054, trend: trend054, row: 4, col: 1 }
];

const AXIS_TEXT = '#9a6b8a';
const toXY = arr => arr.map(p => ({ x: p[0], y: p[1] }));

// grey ggplot-like panel background
const panelBg = {
  id: 'panelBg',
  beforeDraw(chart) {
    const { ctx, chartArea: a } = chart;
    ctx.save();
    ctx.fillStyle = '#efefef';
    ctx.fillRect(a.left, a.top, a.width, a.height);
    ctx.restore();
  }
};

const wrap = document.getElementById('wrap');

panels.forEach(p => {
  const left = p.col === 0;
  const bottom = p.row === 4;
  const stripTop = 12 + Math.round(p.row * 109.5);
  const plotX = left ? 40 : 543;

  const strip = document.createElement('div');
  strip.className = 'strip';
  strip.style.left = plotX + 'px';
  strip.style.top = stripTop + 'px';
  strip.style.width = '499px';
  strip.textContent = p.id;
  wrap.appendChild(strip);

  const cw = left ? 540 : 500;
  const ch = bottom ? 108 : 88;
  const cv = document.createElement('canvas');
  cv.width = cw;
  cv.height = ch;
  cv.style.left = (left ? 0 : 543) + 'px';
  cv.style.top = (stripTop + 17) + 'px';
  cv.style.width = cw + 'px';
  cv.style.height = ch + 'px';
  wrap.appendChild(cv);

  new Chart(cv.getContext('2d'), {
    type: 'line',
    data: {
      datasets: [
        {
          label: 'maaiveld',
          data: toXY([[X_MIN, 0], [X_MAX, 0]]),
          borderColor: '#c844b8',
          borderWidth: 1.3,
          pointRadius: 0,
          order: 0
        },
        {
          label: 'trend',
          data: toXY(p.trend),
          borderColor: '#3a95d5',
          borderWidth: 1.8,
          borderDash: [7, 5],
          pointRadius: 0,
          order: 1
        },
        {
          label: p.id,
          data: toXY(p.series),
          borderColor: '#3c5e8c',
          borderWidth: 1,
          pointRadius: 0,
          tension: 0,
          order: 2
        }
      ]
    },
    options: {
      responsive: false,
      animation: false,
      events: [],
      layout: { padding: { left: 0, right: 1, top: 0, bottom: 0 } },
      plugins: { legend: { display: false }, tooltip: { enabled: false } },
      scales: {
        x: {
          type: 'linear',
          min: X_MIN,
          max: X_MAX,
          afterBuildTicks: ax => { ax.ticks = xMajor.concat(xMinor).sort((a, b) => a - b).map(v => ({ value: v })); },
          afterFit: ax => {
            ax.height = bottom ? 20 : 0;
            ax.paddingLeft = 0; ax.paddingRight = 0; ax.paddingTop = 0; ax.paddingBottom = 0;
          },
          border: { display: false },
          grid: {
            color: c => xMajor.includes(c.tick.value) ? '#ffffff' : '#f9f9f9',
            lineWidth: c => xMajor.includes(c.tick.value) ? 1 : 0.6,
            drawTicks: bottom,
            tickLength: 3,
            tickColor: c => xMajor.includes(c.tick.value) ? '#888' : 'rgba(0,0,0,0)'
          },
          ticks: {
            display: bottom,
            autoSkip: false,
            maxRotation: 0,
            padding: 1,
            color: AXIS_TEXT,
            font: { size: 8, family: 'Liberation Sans' },
            callback: v => xMajor.includes(v) ? String(v) : ''
          }
        },
        y: {
          min: Y_MIN,
          max: Y_MAX,
          afterBuildTicks: ax => { ax.ticks = yMajor.concat(yMinor).sort((a, b) => a - b).map(v => ({ value: v })); },
          afterFit: ax => {
            ax.width = left ? 40 : 0;
            ax.paddingLeft = 0; ax.paddingRight = 0; ax.paddingTop = 0; ax.paddingBottom = 0;
          },
          border: { display: false },
          grid: {
            color: c => yMajor.includes(c.tick.value) ? '#ffffff' : '#f9f9f9',
            lineWidth: c => yMajor.includes(c.tick.value) ? 1 : 0.6,
            drawTicks: left,
            tickLength: 3,
            tickColor: c => yMajor.includes(c.tick.value) ? '#888' : 'rgba(0,0,0,0)'
          },
          ticks: {
            display: left,
            autoSkip: false,
            padding: 3,
            color: AXIS_TEXT,
            font: { size: 8, family: 'Liberation Sans' },
            callback: v => yMajor.includes(v) ? v.toFixed(1) : ''
          }
        }
      }
    },
    plugins: [panelBg]
  });
});
</script>
</body>
</html>
